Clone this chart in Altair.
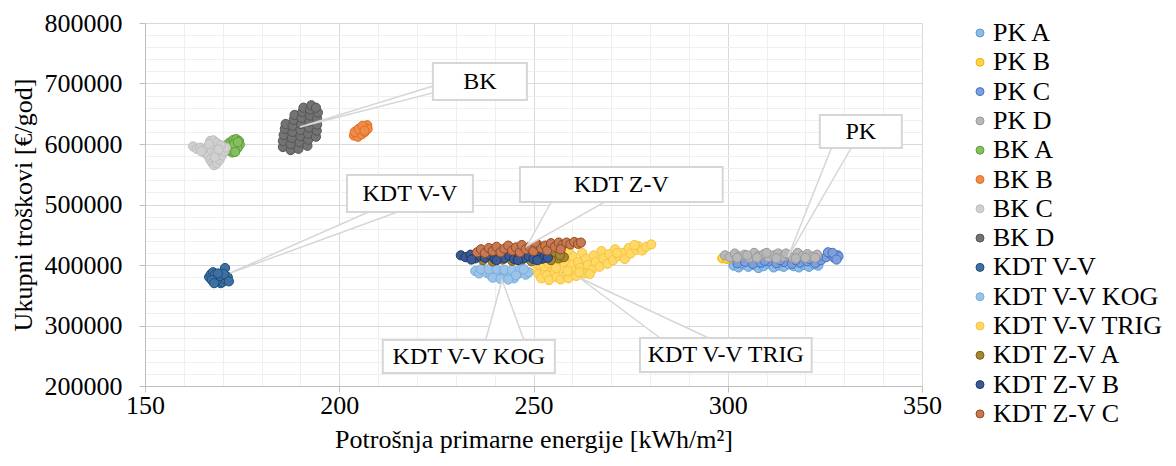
import altair as alt
import pandas as pd

SERIES = ["PK A", "PK B", "PK C", "PK D", "BK A", "BK B", "BK C", "BK D",
          "KDT V-V", "KDT V-V KOG", "KDT V-V TRIG", "KDT Z-V A", "KDT Z-V B", "KDT Z-V C"]

pk_a_x = [301.5, 302.8, 304.0, 305.3, 306.6, 307.9, 309.2, 310.5, 311.8, 313.1, 314.4, 315.7,
          317.0, 318.3, 319.6, 320.9, 322.2, 323.3, 303.5, 308.5, 313.5, 318.8, 322.8]
pk_a_y = [399000, 396000, 401000, 397000, 400000, 395000, 398000, 402000, 396000, 399000, 397000, 401000,
          398000, 396000, 400000, 397000, 401000, 399000, 403000, 403000, 404000, 404000, 404000]

pk_b_x = [298.6, 299.8, 301.0, 302.5, 304.0, 306.0, 308.0, 310.0, 312.0]
pk_b_y = [411000, 410000, 412000, 410000, 412000, 411000, 413000, 411000, 412000]

pk_c_x = [302.5, 304.5, 306.5, 308.5, 310.5, 312.5, 314.5, 316.5, 318.5, 320.5, 322.5, 324.0,
          325.3, 326.5, 327.4, 328.3, 328.5, 325.8, 327.0, 328.0, 323.2, 321.0, 317.5, 313.5, 309.5]
pk_c_y = [403000, 405000, 402000, 404000, 406000, 403000, 405000, 402000, 404000, 406000, 403000, 408000,
          413000, 418000, 412000, 416000, 414000, 421000, 420000, 409000, 414000, 410000, 408000, 408000, 407000]

pk_d_x = [299.3, 300.5, 301.8, 303.0, 304.3, 305.5, 306.8, 308.0, 309.3, 310.5, 311.8, 313.0, 314.3,
          315.5, 316.8, 318.0, 319.3, 320.5, 321.8, 323.0, 302.4, 305.0, 307.5, 310.0, 312.5, 315.0,
          317.5, 320.0, 322.5]
pk_d_y = [416000, 413000, 419000, 414000, 417000, 412000, 420000, 415000, 418000, 413000, 416000, 419000, 414000,
          417000, 412000, 420000, 415000, 418000, 414000, 417000, 412000, 416000, 412000, 420000, 411000, 419000,
          411000, 412000, 412000]

bk_a_x = [171.0, 171.5, 172.2, 172.8, 173.5, 174.2, 174.4, 173.8, 173.2, 172.5, 171.8, 171.2, 172.3, 173.0, 173.9, 173.2]
bk_a_y = [595000, 601000, 604000, 607000, 608000, 605000, 599000, 593000, 588000, 586000, 589000, 590000,
          597000, 600000, 603000, 587000]

bk_b_x = [203.8, 204.5, 205.2, 205.8, 206.5, 207.2, 204.8, 205.8, 206.6, 207.3, 204.0, 205.0, 206.0, 206.5]
bk_b_y = [614000, 617000, 620000, 624000, 628000, 631000, 612000, 616000, 620000, 625000, 620000, 625000,
          630000, 622000]

bk_c_x = [162.4, 163.3, 164.2, 165.0, 166.8, 167.6, 168.4, 165.5, 166.3, 166.8, 167.3, 167.8, 168.5,
          169.2, 169.8, 170.4, 170.8, 169.5, 166.0, 167.2, 168.3, 168.0, 164.5, 166.5, 169.0]
bk_c_y = [596000, 592000, 594000, 590000, 605000, 606000, 602000, 585000, 580000, 574000, 569000, 565000, 568000,
          574000, 581000, 588000, 594000, 598000, 595000, 590000, 586000, 578000, 588000, 600000, 591000]

bk_d_x = [185.5, 185.5, 185.7, 186.0, 186.2,
          187.5, 187.5, 187.8, 188.0, 188.0, 188.3, 188.5,
          189.5, 189.8, 190.0, 190.0, 190.2, 190.3, 190.5, 190.8,
          191.8, 192.0, 192.0, 192.2, 192.3, 192.5, 192.5, 192.8,
          194.0, 194.2, 194.3, 194.3, 194.5, 194.0]
bk_d_y = [595000, 605000, 615000, 625000, 633000,
          590000, 600000, 610000, 620000, 630000, 640000, 648000,
          592000, 603000, 613000, 623000, 633000, 643000, 653000, 660000,
          597000, 607000, 617000, 627000, 637000, 647000, 657000, 664000,
          612000, 622000, 632000, 642000, 652000, 660000]

kdt_vv_x = [166.5, 167.0, 167.5, 168.0, 168.5, 169.0, 169.5, 170.0, 170.8, 171.3, 170.6, 168.2,
            167.2, 169.3, 170.3, 171.6, 168.8, 167.8]
kdt_vv_y = [380000, 385000, 388000, 384000, 378000, 374000, 370000, 372000, 376000, 380000, 395000, 372000,
            375000, 382000, 385000, 373000, 386000, 370000]

kdt_kog_x = [235.0, 236.0, 237.0, 238.0, 239.0, 240.0, 241.0, 242.0, 243.0, 244.0, 245.0, 246.0,
             247.0, 248.0, 248.8, 236.5, 238.5, 240.5, 242.5, 244.5, 246.5, 239.5, 241.5, 243.5, 245.5, 247.5]
kdt_kog_y = [390000, 386000, 392000, 387000, 383000, 390000, 385000, 380000, 387000, 382000, 378000, 385000,
             389000, 384000, 388000, 393000, 393000, 393000, 392000, 392000, 392000, 379000, 377000, 376000, 383000, 393000]

kdt_trig_x = [251.0, 251.3, 251.6, 252.0, 252.5, 253.0, 253.5, 254.0, 254.5, 255.0, 255.5, 256.0, 256.5,
              257.0, 257.5, 258.0, 258.5, 259.0, 259.5, 260.0, 260.5, 261.0, 261.5, 262.0, 262.5, 263.0,
              263.5, 264.0, 265.0, 265.5, 266.0, 267.0, 267.5, 268.0, 269.0, 269.5, 270.5, 271.0, 272.0,
              273.0, 273.5, 274.5, 275.0, 276.5, 277.0, 278.0, 279.0, 280.3, 276.0, 271.5, 256.0, 259.0,
              252.8, 255.8, 258.8, 261.8, 264.5, 253.8, 257.8]
kdt_trig_y = [392000, 385000, 400000, 378000, 407000, 390000, 383000, 375000, 397000, 412000, 388000, 380000, 403000,
              376000, 394000, 410000, 384000, 378000, 400000, 415000, 390000, 382000, 405000, 395000, 420000, 386000,
              410000, 400000, 392000, 416000, 405000, 397000, 423000, 411000, 402000, 418000, 408000, 426000, 415000,
              420000, 410000, 428000, 419000, 425000, 431000, 424000, 430000, 434000, 433000, 420000, 420000, 425000,
              398000, 395000, 390000, 388000, 385000, 403000, 405000]

kdt_zva_x = [237.0, 239.5, 242.0, 244.5, 247.0, 249.5, 252.0, 253.8, 255.2, 256.5, 257.8, 254.5, 256.8]
kdt_zva_y = [408000, 406000, 409000, 407000, 409000, 406000, 410000, 412000, 414000, 411000, 413000, 408000, 416000]

kdt_zvb_x = [231.3, 232.5, 233.8, 235.0, 236.3, 237.5, 238.8, 240.0, 241.3, 242.5, 243.8, 245.0,
             246.3, 247.5, 248.8, 250.0, 251.3, 252.5, 253.7, 234.0, 240.5, 246.0, 251.0]
kdt_zvb_y = [416000, 413000, 417000, 411000, 415000, 412000, 416000, 410000, 414000, 411000, 415000, 410000,
             413000, 411000, 414000, 410000, 413000, 411000, 412000, 409000, 408000, 408000, 408000]

kdt_zvc_x = [235.5, 236.5, 237.5, 238.5, 239.5, 240.5, 241.5, 242.5, 243.5, 244.5, 245.5, 246.5, 247.0,
             248.0, 249.0, 250.0, 251.0, 252.0, 253.0, 253.5, 254.5, 255.5, 256.5, 257.5, 258.5, 259.5,
             260.5, 261.5, 262.2, 257.0, 250.5]
kdt_zvc_y = [421000, 426000, 420000, 428000, 423000, 430000, 421000, 427000, 432000, 424000, 429000, 421000, 433000,
             426000, 430000, 423000, 434000, 428000, 432000, 424000, 436000, 430000, 437000, 433000, 437000, 434000,
             438000, 435000, 437000, 426000, 437000]

SERIES_X = [pk_a_x, pk_b_x, pk_c_x, pk_d_x, bk_a_x, bk_b_x, bk_c_x, bk_d_x,
            kdt_vv_x, kdt_kog_x, kdt_trig_x, kdt_zva_x, kdt_zvb_x, kdt_zvc_x]
SERIES_Y = [pk_a_y, pk_b_y, pk_c_y, pk_d_y, bk_a_y, bk_b_y, bk_c_y, bk_d_y,
            kdt_vv_y, kdt_kog_y, kdt_trig_y, kdt_zva_y, kdt_zvb_y, kdt_zvc_y]

FILLS = ["#8fbbe6", "#ffd24d", "#7f9fdc", "#b8b8b8", "#86bf5f", "#f08c4a", "#d0d0d0", "#737373",
         "#3f70a3", "#9cc3e8", "#ffd966", "#a3863a", "#3a5a95", "#c27a5a"]
STROKES = ["#5b9bd5", "#f0b400", "#4472c4", "#9a9a9a", "#5e9c38", "#e36c1c", "#bdbdbd", "#555555",
           "#1f4e79", "#7aaedf", "#f5c342", "#7f6000", "#203864", "#9e480e"]

# callout annotations: label, box corners, pointer (two base points + tip)
ann_label = ["BK", "KDT V-V", "KDT Z-V", "KDT V-V KOG", "KDT V-V TRIG", "PK"]
ann_box_x1 = [224.1, 202.0, 246.5, 211.2, 277.4, 323.7]
ann_box_x2 = [248.3, 234.4, 298.7, 255.5, 321.6, 344.8]
ann_box_y1 = [672700, 487600, 504100, 221500, 223100, 593400]
ann_box_y2 = [733900, 548700, 561900, 276000, 279300, 647900]
ann_base1_x = [225.0, 208.7, 255.0, 237.5, 283.3, 327.0]
ann_base1_y = [697500, 490900, 509100, 271000, 276000, 598300]
ann_tip_x = [189.9, 171.9, 248.3, 241.9, 261.9, 315.5]
ann_tip_y = [628100, 386700, 431400, 375200, 378500, 413200]
ann_base2_x = [225.0, 216.4, 269.7, 247.8, 296.2, 332.2]
ann_base2_y = [685900, 490900, 509100, 271000, 276000, 598300]

x_ticks = list(range(150, 351, 10))
y_ticks = list(range(200000, 800001, 20000))

rows = []
for name, xs, ys in zip(SERIES, SERIES_X, SERIES_Y):
    for xv, yv in zip(xs, ys):
        rows.append({"series": name, "x": xv, "y": yv})
pts = pd.DataFrame(rows)

poly_rows = []
for i, lab in enumerate(ann_label):
    poly_rows.append({"label": lab, "i": 0, "x": ann_base1_x[i], "y": ann_base1_y[i]})
    poly_rows.append({"label": lab, "i": 1, "x": ann_tip_x[i], "y": ann_tip_y[i]})
    poly_rows.append({"label": lab, "i": 2, "x": ann_base2_x[i], "y": ann_base2_y[i]})
    poly_rows.append({"label": lab, "i": 3, "x": ann_base1_x[i], "y": ann_base1_y[i]})
poly = pd.DataFrame(poly_rows)

boxes = pd.DataFrame({
    "label": ann_label, "x1": ann_box_x1, "x2": ann_box_x2, "y1": ann_box_y1, "y2": ann_box_y2,
})
boxes["xc"] = (boxes["x1"] + boxes["x2"]) / 2
boxes["yc"] = (boxes["y1"] + boxes["y2"]) / 2

FONT = "Liberation Serif"

axis_x = alt.Axis(
    values=x_ticks, title="Potrošnja primarne energije [kWh/m²]",
    labelExpr="datum.value % 50 === 0 ? datum.label : ''",
    gridColor={"condition": {"test": "datum.value % 50 === 0", "value": "#d9d9d9"}, "value": "#efefef"},
    tickColor={"condition": {"test": "datum.value % 50 === 0", "value": "#bfbfbf"}, "value": "transparent"},
    labelFlush=False, labelOverlap=False, tickSize=6, labelPadding=0, titlePadding=8,
)
axis_y = alt.Axis(
    values=y_ticks, title="Ukupni troškovi [€/god]",
    labelExpr="datum.value % 100000 === 0 ? datum.label : ''",
    gridColor={"condition": {"test": "datum.value % 100000 === 0", "value": "#d9d9d9"}, "value": "#efefef"},
    tickColor={"condition": {"test": "datum.value % 100000 === 0", "value": "#bfbfbf"}, "value": "transparent"},
    labelFlush=False, labelOverlap=False, tickSize=6, labelPadding=17, titlePadding=8, format="d",
)
xs_scale = alt.Scale(domain=[150, 350], nice=False, zero=False)
ys_scale = alt.Scale(domain=[200000, 800000], nice=False, zero=False)


def X(f):
    return alt.X(f, type="quantitative", scale=xs_scale, axis=axis_x)


def Y(f):
    return alt.Y(f, type="quantitative", scale=ys_scale, axis=axis_y)


leg = alt.Legend(title=None, orient="none", legendX=822, legendY=-3, symbolType="circle",
                 symbolSize=64, symbolStrokeWidth=1, labelFont=FONT, labelFontSize=26,
                 labelColor="black", labelOffset=0, labelLimit=400, rowPadding=3.3, padding=0)

points = alt.Chart(pts).mark_point(filled=True, size=85, strokeWidth=1, opacity=1).encode(
    x=X("x"), y=Y("y"),
    fill=alt.Fill("series:N", scale=alt.Scale(domain=SERIES, range=FILLS), legend=leg, sort=SERIES),
    stroke=alt.Stroke("series:N", scale=alt.Scale(domain=SERIES, range=STROKES), legend=leg, sort=SERIES),
)

wedges = alt.Chart(poly).mark_line(fill="white", stroke="#d6d6d6", strokeWidth=1.5).encode(
    x=X("x"), y=Y("y"), order="i:Q", detail="label:N",
)

rects = alt.Chart(boxes).mark_rect(fill="white", stroke="#d6d6d6", strokeWidth=2).encode(
    x=X("x1"), x2="x2", y=Y("y1"), y2="y2",
)

texts = alt.Chart(boxes).mark_text(font=FONT, fontSize=24, color="black", baseline="middle", align="center").encode(
    x=X("xc"), y=Y("yc"), text="label:N",
)

chart = alt.layer(points, wedges, rects, texts).properties(
    width=777, height=363,
    autosize=alt.AutoSizeParams(type="none"),
    padding={"left": 137, "top": 15, "right": 246, "bottom": 72},
).configure_view(stroke=None).configure_axis(
    labelFont=FONT, labelFontSize=26, labelColor="black",
    titleFont=FONT, titleFontSize=26, titleColor="black", titleFontWeight="normal",
    domainColor="#bfbfbf", domainWidth=1,
)

chart.save("out.html", embed_options={"renderer": "svg", "actions": False})
